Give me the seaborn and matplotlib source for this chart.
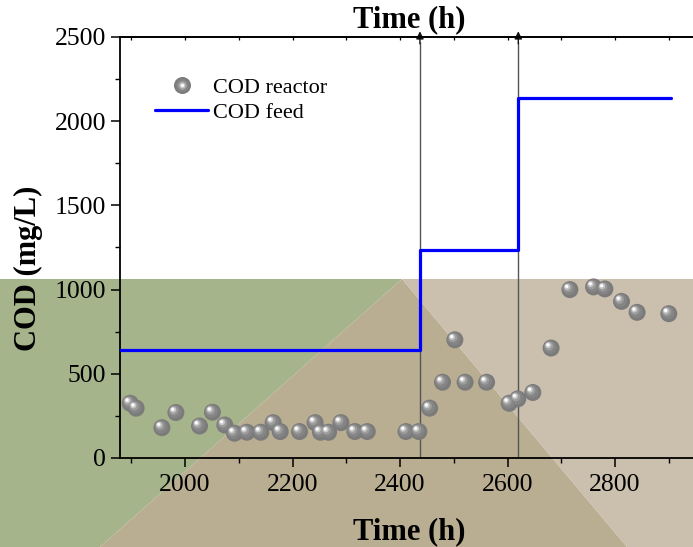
import matplotlib
matplotlib.use("Agg")
import matplotlib.pyplot as plt
import matplotlib.transforms as mtransforms
from matplotlib.patches import Polygon
from matplotlib.lines import Line2D
from matplotlib.legend_handler import HandlerTuple
from matplotlib.ticker import MultipleLocator
import pandas as pd
import seaborn as sns

# Reactor COD measurements
reactor_time = [1898, 1909, 1957, 1983, 2027, 2051, 2074, 2092, 2115, 2141,
                2164, 2177, 2213, 2242, 2252, 2267, 2290, 2316, 2339, 2411,
                2435, 2455, 2479, 2502, 2521, 2561, 2603, 2619, 2647, 2681,
                2716, 2760, 2781, 2812, 2841, 2900]
reactor_cod = [325, 296, 180, 270, 190, 272, 196, 147, 153, 153,
               210, 157, 157, 210, 153, 153, 210, 157, 157, 157,
               157, 296, 450, 702, 450, 450, 325, 351, 389, 653,
               1000, 1016, 1004, 930, 865, 857]

# Feed COD (step changes)
feed_time = [1879, 2437, 2620, 2905]
feed_cod = [640, 1235, 2135, 2135]

# Times at which the feed was increased
step_times = [2437, 2620]

x_ticks = [2000, 2200, 2400, 2600, 2800]
y_ticks = [0, 500, 1000, 1500, 2000, 2500]

sns.set_theme(style="ticks")
plt.rcParams["font.family"] = ["Liberation Serif", "DejaVu Serif"]
plt.rcParams["text.color"] = "black"
plt.rcParams["axes.labelcolor"] = "black"
plt.rcParams["xtick.color"] = "black"
plt.rcParams["ytick.color"] = "black"

W, H = 693, 547
fig = plt.figure(figsize=(W / 100, H / 100), dpi=100)
fig.patch.set_facecolor("white")


def fx(px):
    return px / W


def fy(py):
    return 1 - py / H


# Background panels behind the lower half of the figure
bg_top = 279
panels = [
    ([(0, bg_top), (402, bg_top), (100, H), (0, H)], "#a6b48b"),
    ([(402, bg_top), (100, H), (627, H)], "#b9ad92"),
    ([(402, bg_top), (W, bg_top), (W, H), (627, H)], "#cbbfae"),
]
for pts, col in panels:
    fig.add_artist(Polygon([(fx(x), fy(y)) for x, y in pts], closed=True,
                           transform=fig.transFigure, facecolor=col,
                           edgecolor="none", zorder=-5))

ax = fig.add_axes([fx(120), fy(458), fx(W) - fx(120), fy(37) - fy(458)])
ax.set_facecolor("none")

feed_df = pd.DataFrame({"time": feed_time, "cod": feed_cod})
sns.lineplot(data=feed_df, x="time", y="cod", ax=ax, color="#0000ff",
             linewidth=2.3, drawstyle="steps-post", zorder=3,
             estimator=None, sort=False)

# Step markers: vertical lines with arrowheads above the top spine
for t in step_times:
    ax.vlines(t, 0, 2470, color="#555555", linewidth=1.0, zorder=2)
    ax.annotate("", xy=(t, 2534), xytext=(t, 2460),
                arrowprops=dict(arrowstyle="-|>", color="#111111", lw=1.0,
                                mutation_scale=11, shrinkA=0, shrinkB=0),
                annotation_clip=False, zorder=2)

# Shaded spheres for the reactor data
reactor_df = pd.DataFrame({"time": reactor_time, "cod": reactor_cod})
layers = [
    (17, "#7b7b7b", 0, 0),
    (13, "#858585", -1.0, 1.0),
    (9, "#9c9c9c", -2.0, 2.0),
    (6, "#c8c8c8", -2.8, 2.8),
    (3.2, "#ffffff", -3.2, 3.2),
]
for diam_px, col, dx, dy in layers:
    off = mtransforms.ScaledTranslation(dx / 100, dy / 100, fig.dpi_scale_trans)
    s = (diam_px * 0.72) ** 2
    sns.scatterplot(data=reactor_df, x="time", y="cod", ax=ax, s=s,
                    color=col, edgecolor="none", linewidth=0,
                    transform=ax.transData + off, zorder=4, legend=False)

ax.set_xlim(1879, 2945)
ax.set_ylim(0, 2500)
ax.set_xticks(x_ticks)
ax.set_yticks(y_ticks)
ax.xaxis.set_minor_locator(MultipleLocator(100))
ax.yaxis.set_minor_locator(MultipleLocator(250))
ax.set_xlabel("")
ax.set_ylabel("")

for side in ["left", "bottom", "top"]:
    ax.spines[side].set_linewidth(1.3)
    ax.spines[side].set_color("black")
ax.spines["right"].set_visible(False)

ax.tick_params(axis="both", which="major", direction="out", length=6.5,
               width=1.1, labelsize=18.5, pad=3.5, colors="black")
ax.tick_params(axis="both", which="minor", direction="out", length=3.5,
               width=1.0, colors="black")
ax.tick_params(axis="x", which="major", pad=5)

# Top axis: ticks only
top = ax.secondary_xaxis("top")
top.set_xticks(x_ticks)
top.xaxis.set_minor_locator(MultipleLocator(100))
top.tick_params(which="both", direction="in", length=2.5, width=0.9,
                labeltop=False, colors="black")
top.spines["top"].set_linewidth(1.3)

# Axis titles
fig.text(fx(409), fy(20), "Time (h)", ha="center", va="center",
         fontsize=22, fontweight="bold", color="black")
fig.text(fx(409), fy(532), "Time (h)", ha="center", va="center",
         fontsize=22, fontweight="bold", color="black")
fig.text(fx(28), fy(268), "COD (mg/L)", ha="center", va="center",
         rotation=90, fontsize=22, fontweight="bold", color="black")

# Legend
sphere = tuple(
    Line2D([], [], linestyle="none", marker="o", markersize=d * 0.72,
           markerfacecolor=c, markeredgecolor="none")
    for d, c, _, _ in layers
)
feed_handle = Line2D([], [], color="#0000ff", linewidth=2.3)
leg = ax.legend([sphere, feed_handle], ["COD reactor", "COD feed"],
                handler_map={tuple: HandlerTuple(ndivide=1, pad=0)},
                loc="upper left", bbox_to_anchor=(fx(155), fy(77)),
                bbox_transform=fig.transFigure, frameon=False, fontsize=16,
                handlelength=2.4, handletextpad=0.2, labelspacing=0.2,
                borderpad=0, borderaxespad=0)
for txt in leg.get_texts():
    txt.set_color("black")

fig.savefig("out.png", dpi=100)
